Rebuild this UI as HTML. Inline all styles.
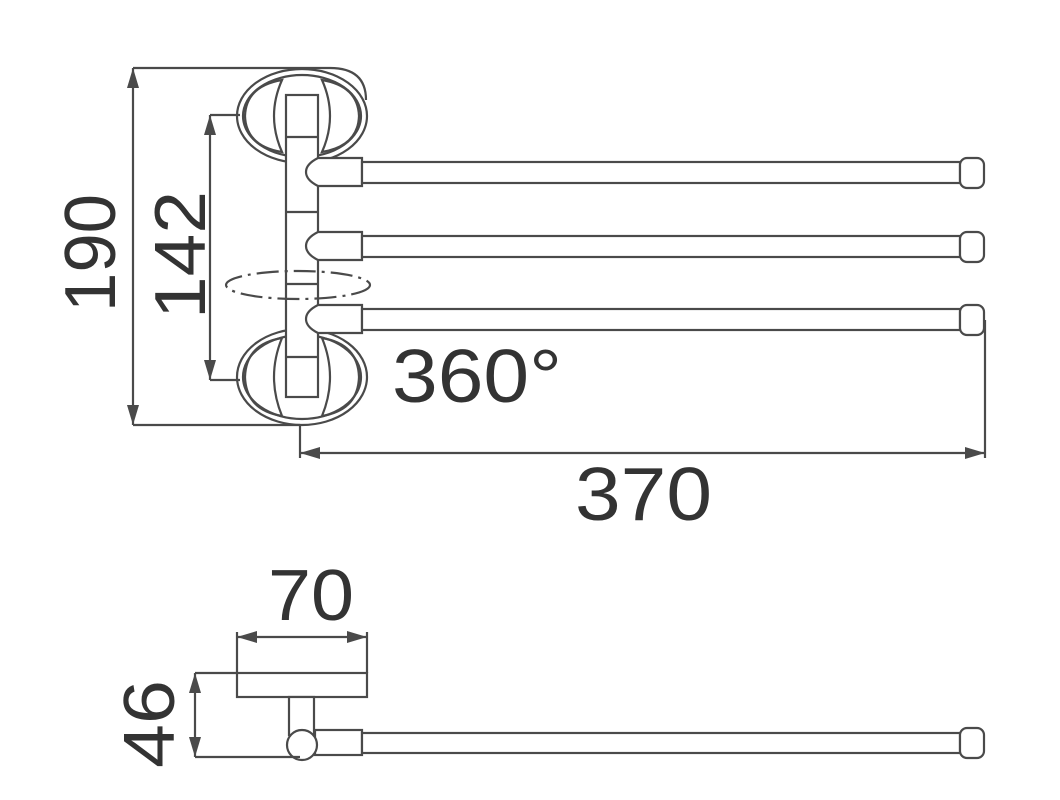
<!DOCTYPE html>
<html><head><style>html,body{margin:0;padding:0;background:#fff}svg{display:block}</style></head>
<body>
<svg width="1060" height="800" viewBox="0 0 1060 800" xmlns="http://www.w3.org/2000/svg">
<g fill="none" stroke="#4a4a4a" stroke-width="2.2">
<path d="M133 68 H330 Q366 68 366 100"/>
<line x1="133" y1="425" x2="300" y2="425"/>
<line x1="300" y1="425" x2="300" y2="458"/>
<!-- top cup -->
<ellipse cx="302" cy="116" rx="65" ry="47"/>
<ellipse cx="302" cy="116" rx="59" ry="41"/>
<path d="M282 80 Q266 116 282 152 Q246 146 245 116 Q246 86 282 80 Z"/>
<path d="M322 80 Q338 116 322 152 Q358 146 359 116 Q358 86 322 80 Z"/>
<!-- bottom cup -->
<ellipse cx="302" cy="377" rx="65" ry="48"/>
<ellipse cx="302" cy="377" rx="59" ry="42"/>
<path d="M282 338 Q266 377 282 416 Q246 410 245 377 Q246 344 282 338 Z"/>
<path d="M322 338 Q338 377 322 416 Q358 410 359 377 Q358 344 322 338 Z"/>
<!-- column -->
<rect x="286" y="95" width="32" height="302" fill="#fff"/>
<line x1="286" y1="137" x2="318" y2="137"/>
<line x1="286" y1="212" x2="318" y2="212"/>
<line x1="286" y1="284" x2="318" y2="284"/>
<line x1="286" y1="357" x2="318" y2="357"/>
<g fill="#fff">
<path d="M318 158 H362 V186 H318 Q306 180 306 172 Q306 164 318 158 Z"/>
<rect x="362" y="162" width="598" height="21"/>
<rect x="960" y="158" width="24" height="30" rx="7"/>
<path d="M318 232 H362 V260 H318 Q306 254 306 246 Q306 238 318 232 Z"/>
<rect x="362" y="236" width="598" height="21"/>
<rect x="960" y="232" width="24" height="30" rx="7"/>
<path d="M318 305 H362 V333 H318 Q306 327 306 319 Q306 311 318 305 Z"/>
<rect x="362" y="309" width="598" height="21"/>
<rect x="960" y="305" width="24" height="30" rx="7"/>
</g>
<ellipse cx="298" cy="285" rx="72" ry="14" stroke-dasharray="22 6 3 6"/>
<line x1="133" y1="68" x2="133" y2="425"/>
<line x1="210" y1="115" x2="210" y2="380"/>
<line x1="210" y1="115" x2="240" y2="115"/>
<line x1="210" y1="380" x2="240" y2="380"/>
<line x1="300" y1="453" x2="985" y2="453"/>
<line x1="985" y1="320" x2="985" y2="458"/>
<!-- bottom view -->
<rect x="237" y="673" width="130" height="24"/>
<rect x="289" y="697" width="25" height="38" fill="#fff"/>
<rect x="315" y="730" width="47" height="25" fill="#fff"/>
<rect x="362" y="733" width="598" height="20" fill="#fff"/>
<rect x="960" y="728" width="24" height="30" rx="7" fill="#fff"/>
<circle cx="302" cy="745" r="15" fill="#fff"/>
<line x1="237" y1="637" x2="367" y2="637"/>
<line x1="237" y1="632" x2="237" y2="673"/>
<line x1="367" y1="632" x2="367" y2="673"/>
<line x1="195" y1="673" x2="237" y2="673"/>
<line x1="195" y1="757" x2="300" y2="757"/>
<line x1="195" y1="673" x2="195" y2="757"/>
</g>
<g fill="#4a4a4a">
<polygon points="133,68 127,88 139,88"/>
<polygon points="133,425 127,405 139,405"/>
<polygon points="210,115 204,135 216,135"/>
<polygon points="210,380 204,360 216,360"/>
<polygon points="300,453 320,447 320,459"/>
<polygon points="985,453 965,447 965,459"/>
<polygon points="237,637 257,631 257,643"/>
<polygon points="367,637 347,631 347,643"/>
<polygon points="195,673 189,693 201,693"/>
<polygon points="195,757 189,737 201,737"/>
</g>
<g font-family="Liberation Sans, sans-serif" font-size="72" fill="#333" lengthAdjust="spacingAndGlyphs">
<text transform="translate(115,253) rotate(-90)" text-anchor="middle" textLength="118" lengthAdjust="spacingAndGlyphs">190</text>
<text transform="translate(205,255) rotate(-90)" text-anchor="middle" textLength="128" lengthAdjust="spacingAndGlyphs">142</text>
<text x="392" y="402" font-size="75" textLength="170" lengthAdjust="spacingAndGlyphs">360°</text>
<text x="575" y="520" font-size="75" textLength="137" lengthAdjust="spacingAndGlyphs">370</text>
<text x="268" y="620" textLength="86" lengthAdjust="spacingAndGlyphs">70</text>
<text transform="translate(174,724) rotate(-90)" text-anchor="middle" textLength="88" lengthAdjust="spacingAndGlyphs">46</text>
</g>
</svg>
</body></html>
